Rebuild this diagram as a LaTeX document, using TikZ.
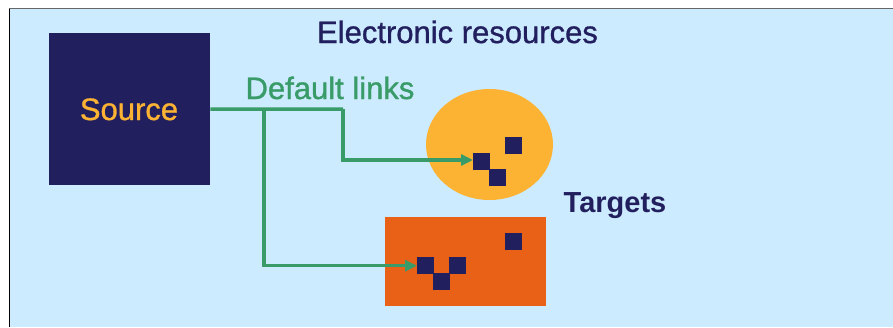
\documentclass[tikz,border=0pt]{standalone}
\usepackage{fontspec}
\setmainfont{Liberation Sans}
\newfontfamily\heavysans[FakeBold=1]{Liberation Sans}
\usetikzlibrary{arrows.meta,shapes.geometric}
\definecolor{navy}{HTML}{221F5F}
\definecolor{lorange}{HTML}{FCB334}
\definecolor{dorange}{HTML}{E86117}
\definecolor{lgreen}{HTML}{389B68}
\definecolor{lblue}{HTML}{CCEBFE}
\tikzset{
  sq/.style={fill=navy,minimum size=17pt,inner sep=0pt,anchor=north west},
  link/.style={draw=lgreen,line width=3.5pt,-{Triangle[length=12pt,width=11pt]}},
  linkline/.style={draw=lgreen,line width=3.5pt},
  txt/.style={font=\heavysans\fontsize{31}{31}\selectfont,anchor=base,inner sep=0pt}
}
\begin{document}
\begin{tikzpicture}[x=1pt,y=-1pt]
\useasboundingbox (0,0) rectangle (893,327);
\fill[white] (0,0) rectangle (893,327);
\fill[lblue] (9,8.5) rectangle (893,327);
\draw[gray!80!black,line width=1pt] (9,8.5) -- (893,8.5);
\draw[black,line width=1pt] (9,8.5) -- (9,327);

\node[txt,text=navy] (title) at (457.5,43) {Electronic resources};

\node[fill=navy,minimum width=161pt,minimum height=152pt,inner sep=0pt,anchor=north west] (src) at (49,33) {};
\node[txt,text=lorange] (srclabel) at (129,120) {Source};

\node[txt,text=lgreen] (links) at (330,99) {Default links};

\node[ellipse,fill=lorange,minimum width=127pt,minimum height=111pt,inner sep=0pt] (ell) at (489.5,144.5) {};
\node[sq] (e1) at (473,153) {};
\node[sq] (e2) at (505,137) {};
\node[sq] (e3) at (489,169) {};

\node[fill=dorange,minimum width=161pt,minimum height=89pt,inner sep=0pt,anchor=north west] (rect) at (385,217) {};
\node[sq] (r1) at (417,257) {};
\node[sq] (r2) at (449,257) {};
\node[sq] (r3) at (433,273) {};
\node[sq] (r4) at (505,233) {};

\node[txt,text=navy,font=\fontsize{29}{29}\selectfont\bfseries] (targets) at (615,212) {Targets};

\coordinate (j1) at (264,109);
\coordinate (j2) at (343,109);
\draw[linkline] (src.east) -- (j2);
\draw[link] (j2) -- (343,160) -- (e1.west |- 0,160);
\draw[link] (j1) |- (r1.west);
\end{tikzpicture}
\end{document}
